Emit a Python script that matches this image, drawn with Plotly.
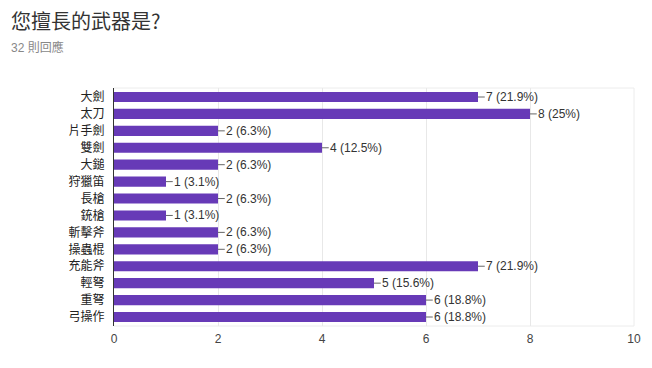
import plotly.graph_objects as go

categories = ["大劍", "太刀", "片手劍", "雙劍", "大鎚", "狩獵笛", "長槍", "銃槍", "斬擊斧", "操蟲棍", "充能斧", "輕弩", "重弩", "弓操作"]
counts = [7, 8, 2, 4, 2, 1, 2, 1, 2, 2, 7, 5, 6, 6]
pct_labels = ["21.9%", "25%", "6.3%", "12.5%", "6.3%", "3.1%", "6.3%", "3.1%", "6.3%", "6.3%", "21.9%", "15.6%", "18.8%", "18.8%"]
x_ticks = [0, 2, 4, 6, 8, 10]
title = "您擅長的武器是?"
subtitle = "32 則回應"

font_family = "Arial, 'Liberation Sans', 'Noto Sans CJK TC', sans-serif"
cjk_family = "'Noto Sans CJK TC', sans-serif"

H, W = 368, 652
mt, mb, ml, mr = 88, 42, 114, 18
ph = H - mt - mb
pw = W - ml - mr


def py(ypix):
    return (H - mb - ypix) / ph


def px(xpix):
    return (xpix - ml) / pw


annotations = []
shapes = []
for c, v, p in zip(categories, counts, pct_labels):
    shapes.append(dict(type="line", xref="x", yref="y", x0=v, x1=v + 0.13, y0=c, y1=c,
                       line=dict(color="#666666", width=1)))
    annotations.append(dict(x=v, y=c, xref="x", yref="y", text=f"{v} ({p})", showarrow=False,
                            xanchor="left", xshift=6,
                            font=dict(size=12, color="#333333", family=font_family)))

annotations.append(dict(x=px(9), y=py(21), xref="paper", yref="paper", xanchor="left", yanchor="middle",
                        text=title, showarrow=False,
                        font=dict(size=20, color="#333333", family=cjk_family)))
annotations.append(dict(x=px(9), y=py(48), xref="paper", yref="paper", xanchor="left", yanchor="middle",
                        text=subtitle, showarrow=False,
                        font=dict(size=12, color="#888888", family=font_family)))

# faint frame around the plot area (top, right, bottom)
frame = dict(color="#ececec", width=1)
shapes.append(dict(type="line", xref="paper", yref="paper", x0=1, x1=1, y0=0, y1=1, line=frame, layer="below"))
shapes.append(dict(type="line", xref="paper", yref="paper", x0=0, x1=1, y0=0, y1=0, line=frame, layer="below"))
shapes.append(dict(type="line", xref="paper", yref="paper", x0=0, x1=1, y0=1, y1=1, line=frame, layer="below"))

fig = go.Figure(
    data=[go.Bar(
        x=counts, y=categories, orientation="h",
        marker=dict(color="#673ab7", line=dict(width=0)),
        width=0.6, hoverinfo="skip",
    )],
    layout=dict(
        width=W, height=H,
        margin=dict(l=ml, r=mr, t=mt, b=mb, pad=0, autoexpand=False),
        paper_bgcolor="white", plot_bgcolor="white",
        showlegend=False,
        annotations=annotations,
        shapes=shapes,
        xaxis=dict(range=[0, 10], tickvals=x_ticks, showgrid=True, gridcolor="#e8e8e8", gridwidth=1,
                   zeroline=False, showline=False, ticks="", fixedrange=True, automargin=False,
                   ticklabelstandoff=4,
                   tickfont=dict(size=12, color="#444444", family=font_family)),
        yaxis=dict(autorange="reversed", showline=True, linecolor="#333333", linewidth=1, ticks="",
                   ticklabelstandoff=6, showgrid=False, automargin=False, fixedrange=True,
                   tickfont=dict(size=12, color="#222222", family=cjk_family)),
    ),
)

fig.write_html("out.html", config={"displayModeBar": False, "staticPlot": True},
               post_script="document.body.style.margin='0';")
